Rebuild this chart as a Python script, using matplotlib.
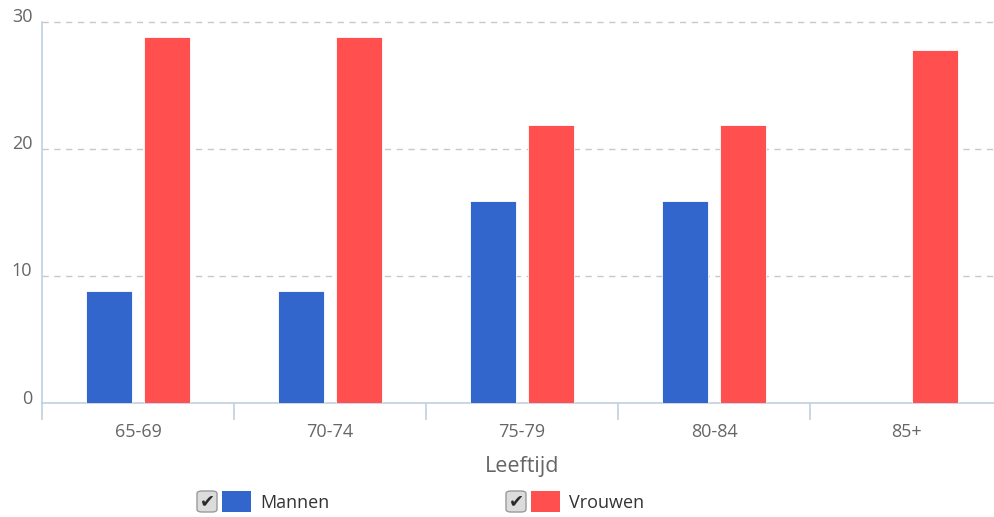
import numpy as np
import matplotlib.pyplot as plt
from matplotlib.patches import Rectangle, FancyBboxPatch
from matplotlib.transforms import ScaledTranslation

plt.rcParams['font.family'] = ['Open Sans', 'DejaVu Sans']

categories = ["65-69", "70-74", "75-79", "80-84", "85+"]
mannen = [8.8, 8.8, 15.9, 15.9, 0]
vrouwen = [28.8, 28.8, 21.9, 21.9, 27.8]
series_names = ["Mannen", "Vrouwen"]
yticks = [0, 10, 20, 30]

blue = "#3366CC"
red = "#FF4F4F"
axis_col = "#C0D0E0"
text_col = "#666666"

W, H = 995, 517
fig = plt.figure(figsize=(W / 100, H / 100), dpi=100)
ax = fig.add_axes([42 / W, (H - 403) / H, 960 / W, 382 / H])

x = np.arange(len(categories))
ax.bar(x - 0.15, mannen, width=0.24, color=blue, edgecolor="#ffffff", linewidth=0.6, zorder=3)
ax.bar(x + 0.15, vrouwen, width=0.24, color=red, edgecolor="#ffffff", linewidth=0.6, zorder=3)

ax.set_xlim(-0.5, len(categories) - 0.5)
ax.set_ylim(0, 30.05)

# y axis: no line, dashed grid
ax.set_yticks(yticks)
ax.set_yticklabels([str(v) for v in yticks], fontsize=13, color=text_col)
ax.tick_params(axis="y", length=0, pad=7)
up = ScaledTranslation(0, 6.5 / 100, fig.dpi_scale_trans)
for lab in ax.get_yticklabels():
    lab.set_transform(lab.get_transform() + up)
for v in yticks[1:]:
    ax.axhline(v, color="#C8C8C8", linewidth=1, linestyle=(0, (4.5, 4)), zorder=1)

# x axis
ax.set_xticks(x)
ax.set_xticklabels(categories, fontsize=13, color=text_col)
ax.tick_params(axis="x", which="major", length=0, pad=14.5)
ax.set_xticks(np.arange(len(categories) + 1) - 0.5, minor=True)
ax.tick_params(axis="x", which="minor", length=12.5, width=1.2, color=axis_col, direction="out")
ax.set_xlabel("Leeftijd", fontsize=15.5, color=text_col, labelpad=11)

for s in ["top", "right"]:
    ax.spines[s].set_visible(False)
ax.spines["bottom"].set_color(axis_col)
ax.spines["bottom"].set_linewidth(1.2)
ax.spines["left"].set_color(axis_col)
ax.spines["left"].set_linewidth(1.2)
ax.spines["left"].set_bounds(0, 30)


def fx(px):
    return px / W


def fy(py):
    return 1 - py / H


# legend with checkboxes
legend_x = [197, 506]
for lx, name, col in zip(legend_x, series_names, [blue, red]):
    box = FancyBboxPatch((fx(lx), fy(512)), fx(20), 21 / H,
                         boxstyle="round,pad=0,rounding_size=0.005",
                         transform=fig.transFigure, facecolor="#DCDCDC",
                         edgecolor="#9A9A9A", linewidth=1)
    fig.add_artist(box)
    fig.text(fx(lx + 10), fy(501.5), "\u2714", ha="center", va="center",
             fontsize=13, color="#2A2A2A", family="DejaVu Sans")
    fig.add_artist(Rectangle((fx(lx + 25), fy(512)), fx(29), 21 / H,
                             transform=fig.transFigure, facecolor=col, edgecolor="none"))
    fig.text(fx(lx + 63), fy(503), name, ha="left", va="center",
             fontsize=13, color="#333333")

fig.savefig("out.png", dpi=100)
